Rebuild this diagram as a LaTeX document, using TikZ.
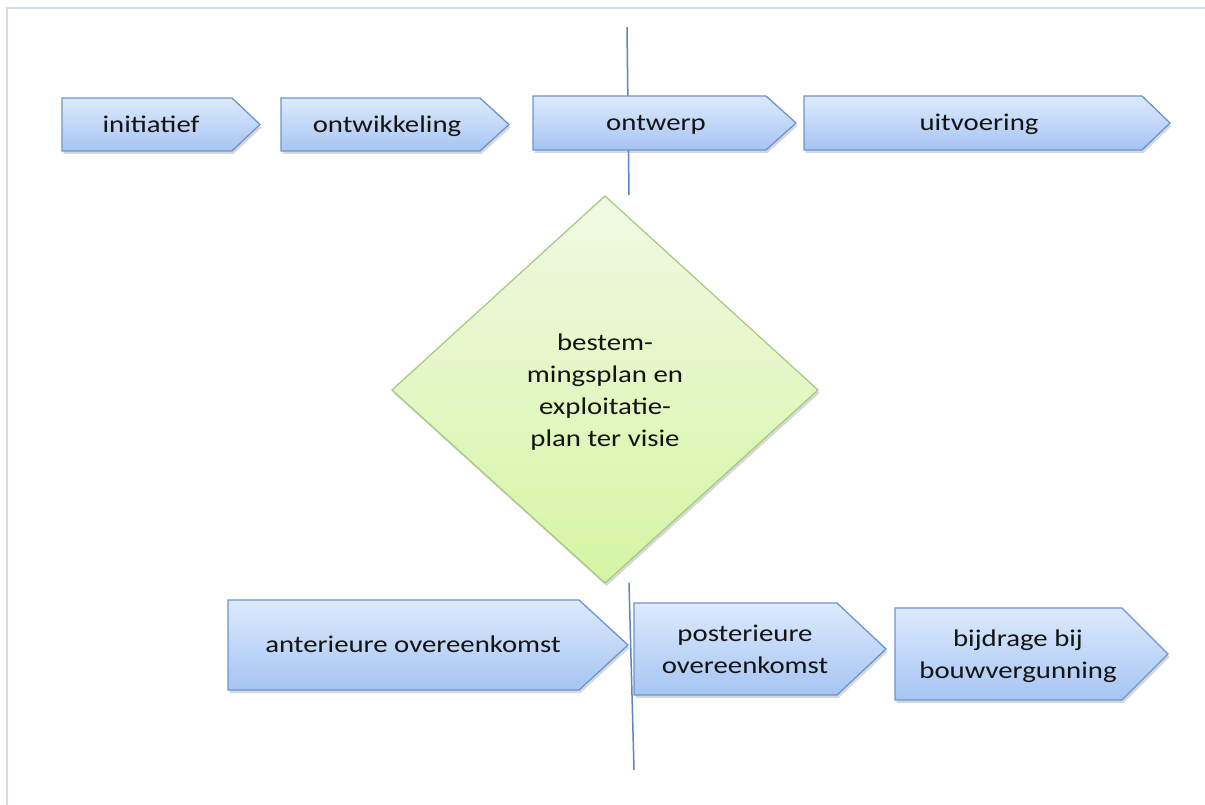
\documentclass[tikz,border=0pt]{standalone}
\usepackage{fontspec}
\setmainfont{Carlito}[FakeStretch=1.2]
\usetikzlibrary{shadows}
\definecolor{bluetop}{HTML}{DDEAFC}
\definecolor{bluebot}{HTML}{A6C5F3}
\definecolor{blueline}{HTML}{6E94CF}
\definecolor{greentop}{HTML}{F1F9E4}
\definecolor{greenbot}{HTML}{D5F5A3}
\definecolor{greenline}{HTML}{A8CB86}
\definecolor{frameline}{HTML}{D3DCEE}
\definecolor{divider}{HTML}{5B86C0}
\definecolor{txt}{HTML}{141414}
\begin{document}
\begin{tikzpicture}[x=1pt,y=-1pt,
  chev/.style={draw=blueline, line width=1.3pt, top color=bluetop, bottom color=bluebot,
    line join=miter, drop shadow={opacity=0.3, shadow xshift=1.5pt, shadow yshift=-3pt}},
  dia/.style={draw=greenline, line width=1.3pt, top color=greentop, bottom color=greenbot,
    drop shadow={opacity=0.3, shadow xshift=1.5pt, shadow yshift=-3pt}},
  lbl/.style={font=\fontsize{24}{32}\selectfont, text=txt, align=center, inner sep=0pt},
  divline/.style={draw=divider, line width=1.5pt},
  frame/.style={draw=frameline, line width=2pt}]
\useasboundingbox (0,0) rectangle (1205,805);
\fill[white] (0,0) rectangle (1205,805);
% frame
\draw[frame] (1205,8.5) -- (7,8.5) -- (7,805);
% divider lines
\coordinate (t1) at (627,27);
\coordinate (t2) at (629,195);
\coordinate (b1) at (629,583);
\coordinate (b2) at (634,770);
\draw[divline] (t1) -- (t2);
\draw[divline] (b1) -- (b2);
% top row
\path[chev] (62,98) -- (232,98) -- (260,124.5) -- (232,151) -- (62,151) -- cycle;
\path[chev] (281,98) -- (480,98) -- (509,124.5) -- (480,151) -- (281,151) -- cycle;
\path[chev] (533,96) -- (766,96) -- (796,123) -- (766,150) -- (533,150) -- cycle;
\path[chev] (804,96) -- (1142,96) -- (1170,123) -- (1142,150) -- (804,150) -- cycle;
\node[lbl, anchor=base] (initiatief) at (151,132.5) {initiatief};
\node[lbl, anchor=base] (ontwikkeling) at (387,132.5) {ontwikkeling};
\node[lbl, anchor=base] (ontwerp) at (656,130.5) {ontwerp};
\node[lbl, anchor=base] (uitvoering) at (979,130.5) {uitvoering};
% diamond
\path[dia] (605,196) -- (818,390) -- (605,583) -- (392,390) -- cycle;
\node[lbl] (bestemming) at (605,392.5) {bestem-\\mingsplan en\\exploitatie-\\plan ter visie};
% bottom row
\path[chev] (228,600) -- (579,600) -- (628,645) -- (579,690) -- (228,690) -- cycle;
\path[chev] (634,603) -- (837,603) -- (886,649) -- (837,695) -- (634,695) -- cycle;
\path[chev] (895,608) -- (1122,608) -- (1168,654) -- (1122,700) -- (895,700) -- cycle;
\node[lbl, anchor=base] (anterieure) at (413,652.5) {anterieure overeenkomst};
\node[lbl] (posterieure) at (745,649) {posterieure\\overeenkomst};
\node[lbl] (bijdrage) at (1018,656) {bijdrage bij\\bouwvergunning};
\end{tikzpicture}
\end{document}
